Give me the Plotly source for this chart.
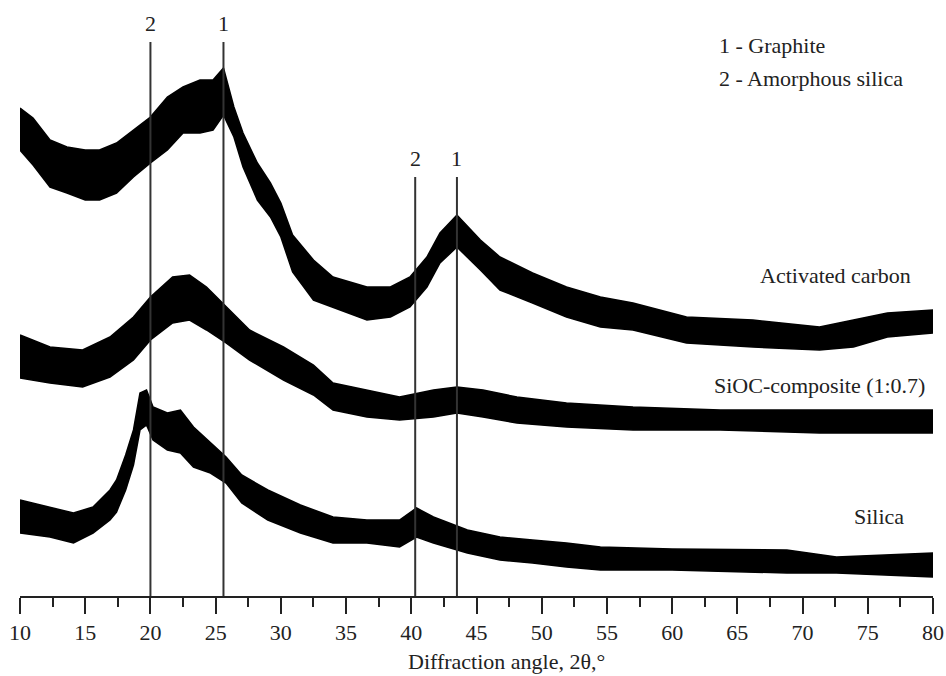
import plotly.graph_objects as go

# ---- data (intensity in arbitrary units) ----
ac_x = [10, 11, 12.3, 13.6, 15, 16.1, 17.4, 18.7, 20, 21.3, 22.5, 23.8, 24.8, 25.6,
        26.4, 27.1, 28.2, 29.2, 30.0, 30.9, 32.5, 34, 36.6, 38.4, 39.9, 41.2, 42.2,
        43.5, 45.3, 46.8, 49.3, 51.9, 54.5, 57, 61.1, 66.2, 71.3, 73.9, 76.5, 80]
ac_upper = [488, 478, 456, 449, 446, 446, 453, 466, 479, 499, 509, 516, 516, 528,
            489, 463, 433, 413, 393, 361, 336, 319, 309, 309, 319, 339, 363,
            381, 356, 339, 323, 309, 299, 293, 279, 276, 269, 276, 283, 286]
ac_lower = [446, 431, 409, 403, 396, 396, 403, 419, 433, 446, 463, 463, 466, 481,
            459, 429, 396, 379, 359, 324, 296, 289, 276, 279, 289, 309, 333,
            349, 326, 306, 293, 279, 269, 266, 253, 249, 246, 249, 259, 263]

sioc_x = [10, 12.3, 14.8, 16.9, 18.7, 20, 21.7, 23, 24.3, 25.8, 27.6, 30.2, 32.5,
          34, 36.6, 39.1, 41.7, 43.5, 45.5, 48.1, 51.9, 57, 63.7, 71.3, 80]
sioc_upper = [261, 249, 246, 259, 279, 299, 319, 321, 309, 289, 266, 249, 231,
              213, 206, 199, 206, 209, 206, 199, 193, 189, 186, 186, 186]
sioc_lower = [218, 213, 209, 219, 236, 256, 273, 276, 266, 253, 236, 216, 201,
              186, 179, 176, 179, 183, 179, 173, 169, 166, 166, 163, 163]

si_x = [10, 12.3, 14.1, 15.6, 16.9, 17.4, 18.1, 18.7, 19.2, 19.7, 20.2, 21.3, 22.3,
        23.3, 24.6, 25.8, 27, 29, 31.5, 34, 36.6, 39.1, 40.4, 41.7, 44.3, 46.8,
        49.3, 51.9, 54.5, 60, 68.8, 72.6, 80]
si_upper = [96, 89, 83, 89, 106, 116, 141, 166, 203, 206, 189, 183, 186,
            169, 153, 139, 121, 106, 91, 79, 76, 76, 88, 79, 66, 59,
            56, 53, 49, 47, 46, 39, 43]
si_lower = [63, 59, 53, 63, 76, 84, 106, 131, 166, 171, 156, 146, 143,
            129, 123, 113, 93, 76, 63, 53, 53, 49, 59, 53, 43, 36,
            33, 29, 26, 26, 23, 23, 19]

peak_pos = [20.0, 25.6, 40.3, 43.5]
peak_labels = ["2", "1", "2", "1"]
peak_top = [554, 554, 419, 419]

x_ticks = list(range(10, 81, 5))

series = [
    ("Activated carbon", ac_x, ac_upper, ac_lower),
    ("SiOC-composite (1:0.7)", sioc_x, sioc_upper, sioc_lower),
    ("Silica", si_x, si_upper, si_lower),
]

FONT = "Liberation Serif"
FS = 22
fig = go.Figure()

for name, xs, up, lo in series:
    fig.add_trace(go.Scatter(
        x=xs + xs[::-1], y=up + lo[::-1], mode="lines", fill="toself",
        fillcolor="black", line=dict(color="black", width=1.5),
        name=name, showlegend=False, hoverinfo="skip"))

shapes = []
annotations = []
for xp, lab, top in zip(peak_pos, peak_labels, peak_top):
    shapes.append(dict(type="line", xref="x", yref="y", x0=xp, x1=xp, y0=0, y1=top,
                       line=dict(color="#333333", width=2), layer="above"))
    annotations.append(dict(x=xp, y=top + 19, xref="x", yref="y", text=lab,
                            showarrow=False, font=dict(family=FONT, size=FS, color="#222"),
                            xanchor="center", yanchor="middle"))

# legend-like text
annotations.append(dict(x=63.45, y=551, xref="x", yref="y", text="1 - Graphite",
                        showarrow=False, xanchor="left", yanchor="middle",
                        font=dict(family=FONT, size=FS, color="#222")))
annotations.append(dict(x=63.45, y=518, xref="x", yref="y", text="2 - Amorphous silica",
                        showarrow=False, xanchor="left", yanchor="middle",
                        font=dict(family=FONT, size=FS, color="#222")))
# curve labels
for txt, xr, yv in [("Activated carbon", 78.5, 321),
                    ("SiOC-composite (1:0.7)", 79.55, 211),
                    ("Silica", 77.9, 80)]:
    annotations.append(dict(x=xr, y=yv, xref="x", yref="y", text=txt, showarrow=False,
                            xanchor="right", yanchor="middle",
                            font=dict(family=FONT, size=FS, color="#222")))
# axis title (paper y: below the plot area)
annotations.append(dict(x=47.3, y=-66 / 596, xref="x", yref="paper",
                        text="Diffraction angle, 2θ,°", showarrow=False,
                        xanchor="center", yanchor="middle",
                        font=dict(family=FONT, size=FS, color="#222")))

fig.update_layout(
    width=946, height=676,
    margin=dict(l=20, r=13, t=0, b=80),
    paper_bgcolor="white", plot_bgcolor="white",
    shapes=shapes, annotations=annotations,
    xaxis=dict(range=[10, 80], tickvals=x_ticks, ticktext=[str(t) for t in x_ticks],
               showgrid=False, zeroline=False, showline=True, linecolor="#222",
               linewidth=2, ticks="outside", ticklen=16, tickwidth=2, tickcolor="#222",
               minor=dict(dtick=2.5, tick0=10, ticks="outside", ticklen=9, tickwidth=2,
                          tickcolor="#222", showgrid=False),
               tickfont=dict(family=FONT, size=FS, color="#222")),
    yaxis=dict(range=[0, 596], visible=False, showgrid=False, zeroline=False),
    showlegend=False,
)

# remove the default page margin so the 946x676 figure fills the window exactly
fig.write_html("out.html", config={"displayModeBar": False},
               post_script="document.body.style.margin='0px';document.body.style.overflow='hidden';")
